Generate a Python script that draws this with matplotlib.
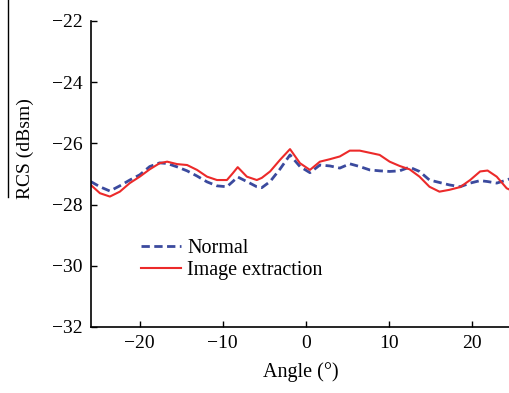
import matplotlib.pyplot as plt
from matplotlib.lines import Line2D

angle = [-25.9, -24.8, -23.6, -22.4, -21.2, -20.0, -18.8, -17.6, -16.7, -15.5,
         -14.3, -13.1, -11.9, -10.7, -9.5, -8.8, -8.2, -7.1, -5.9, -5.3,
         -4.3, -3.1, -1.9, -0.7, 0.5, 1.7, 2.9, 4.1, 5.3, 6.5,
         7.7, 8.9, 10.1, 11.3, 12.5, 13.7, 14.9, 16.1, 17.3, 18.6,
         19.8, 21.0, 21.9, 23.0, 24.2, 24.6]

normal = [-27.25, -27.42, -27.56, -27.39, -27.20, -27.03, -26.76, -26.64, -26.66, -26.77,
          -26.90, -27.07, -27.26, -27.39, -27.42, -27.25, -27.10, -27.25, -27.42, -27.45,
          -27.25, -26.84, -26.38, -26.76, -26.96, -26.71, -26.74, -26.81, -26.67, -26.76,
          -26.87, -26.90, -26.92, -26.90, -26.78, -26.92, -27.20, -27.28, -27.36, -27.42,
          -27.30, -27.22, -27.25, -27.30, -27.20, -27.16]

image_extraction = [-27.36, -27.63, -27.74, -27.58, -27.30, -27.09, -26.85, -26.65, -26.60, -26.68,
                    -26.71, -26.87, -27.09, -27.20, -27.20, -26.98, -26.78, -27.09, -27.20, -27.13,
                    -26.92, -26.54, -26.19, -26.65, -26.87, -26.60, -26.52, -26.43, -26.24, -26.24,
                    -26.31, -26.38, -26.60, -26.74, -26.85, -27.09, -27.42, -27.58, -27.52, -27.43,
                    -27.20, -26.92, -26.89, -27.09, -27.47, -27.52]

xticks = [-20, -10, 0, 10, 20]
yticks = [-32, -30, -28, -26, -24, -22]

plt.rcParams['font.family'] = ['Liberation Serif', 'DejaVu Serif']

fig = plt.figure(figsize=(5.1, 3.93), dpi=100)
ax = fig.add_axes([0.178, 0.168, 0.822, 0.779])

ax.plot(angle, normal, color='#3b4a9e', linestyle=(0, (3, 1.6)), linewidth=2.0, label='Normal')
ax.plot(angle, image_extraction, color='#ec2a2a', linewidth=1.5, label='Image extraction')

ax.set_xlim(-25.9, 24.6)
ax.set_ylim(-32, -22)
ax.set_xticks(xticks)
ax.set_yticks(yticks)
ax.set_xticklabels(['\u221220', '\u221210', '0', '10', '20'])
ax.set_yticklabels(['\u221232', '\u221230', '\u221228', '\u221226', '\u221224', '\u221222'])
ax.tick_params(direction='in', length=4.5, width=1, labelsize=14, pad=6)

ax.spines['top'].set_visible(False)
ax.spines['right'].set_visible(False)
ax.spines['left'].set_linewidth(1.2)
ax.spines['bottom'].set_linewidth(1.2)

ax.set_xlabel('Angle (\u00b0)', fontsize=14.5, labelpad=7)
fig.text(25 / 510, 1 - 149 / 393, 'RCS (dBsm)', rotation=90, ha='center', va='center', fontsize=14)
fig.add_artist(Line2D([8 / 510, 8 / 510], [1.0, 1 - 197 / 393], color='black', linewidth=1,
                      transform=fig.transFigure))

ax.legend(loc='upper left', bbox_to_anchor=(0.1, 0.315), frameon=False, fontsize=14.5,
          handlelength=2.0, handletextpad=0.3, labelspacing=0.15, borderaxespad=0)

fig.savefig('out.png', dpi=100)
